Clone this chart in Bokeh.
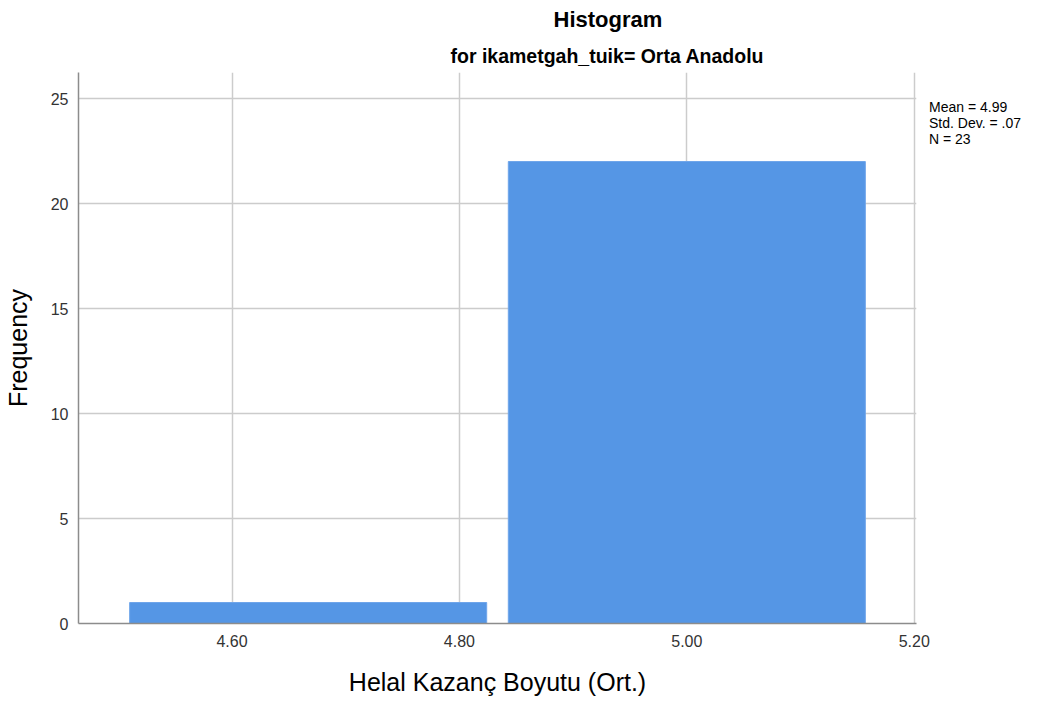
from bokeh.plotting import figure
from bokeh.models import (Range1d, FixedTicker, NumeralTickFormatter, ColumnDataSource,
                          Title, Legend, LegendItem)
from bokeh.embed import file_html
from bokeh.resources import INLINE

# data
bin_centers = [4.667, 5.0]
counts = [1, 22]
x_ticks = [4.60, 4.80, 5.00, 5.20]
y_ticks = [0, 5, 10, 15, 20, 25]
stats_lines = ["Mean = 4.99", "Std. Dev. = .07", "N = 23"]
title_text = "Histogram"
subtitle_text = "for ikametgah_tuik= Orta Anadolu"
x_label = "Helal Kazanç Boyutu (Ort.)"
y_label = "Frequency"

bar_width = 0.314
src = ColumnDataSource(dict(
    left=[c - bar_width / 2 for c in bin_centers],
    right=[c + bar_width / 2 for c in bin_centers],
    top=counts,
    bottom=[0] * len(counts),
))

p = figure(frame_width=838, frame_height=551, output_backend="svg", toolbar_location=None,
           x_range=Range1d(4.465, 5.202), y_range=Range1d(0, 26.24),
           min_border_left=76, min_border_right=113, min_border_top=64, min_border_bottom=70)
p.outline_line_color = None
p.background_fill_color = "white"
p.title.visible = False

p.quad(left="left", right="right", top="top", bottom="bottom", source=src,
       fill_color="#5596E5", line_color="#6FA5EA", line_width=1)

p.xaxis.ticker = FixedTicker(ticks=x_ticks)
p.yaxis.ticker = FixedTicker(ticks=y_ticks)
p.xaxis.formatter = NumeralTickFormatter(format="0.00")
for ax in (p.xaxis, p.yaxis):
    ax.major_tick_line_color = None
    ax.minor_tick_line_color = None
    ax.axis_line_color = "#8c8c8c"
    ax.axis_line_width = 1.5
    ax.major_label_text_font = "Liberation Sans"
    ax.major_label_text_font_size = "16px"
    ax.major_label_text_color = "#333333"
    ax.axis_label_text_font = "Liberation Sans"
    ax.axis_label_text_font_size = "25px"
    ax.axis_label_text_font_style = "normal"
    ax.axis_label_text_color = "#000000"

p.xaxis.axis_label = x_label
p.yaxis.axis_label = y_label
p.xaxis.major_label_standoff = 5
p.yaxis.major_label_standoff = 4
p.xaxis.axis_label_standoff = 18
p.yaxis.axis_label_standoff = 16

p.grid.grid_line_color = "#cccccc"
p.grid.grid_line_width = 1.5

# titles (first added sits closest to the frame)
p.add_layout(Title(text=subtitle_text, align="left", offset=372, standoff=12,
                   text_font="Liberation Sans", text_font_style="bold",
                   text_font_size="19.5px", text_color="#000000"), "above")
p.add_layout(Title(text=title_text, align="left", offset=475, standoff=9,
                   text_font="Liberation Sans", text_font_style="bold",
                   text_font_size="22px", text_color="#000000"), "above")

# statistics box
dummy = p.scatter(x=[], y=[], size=0, fill_alpha=0, line_alpha=0)
legend = Legend(items=[LegendItem(label=t, renderers=[dummy]) for t in stats_lines],
                location=(13, 476), orientation="vertical",
                glyph_width=0, glyph_height=13, label_height=13, label_standoff=0,
                spacing=0, padding=0, margin=0,
                border_line_color=None, background_fill_alpha=0,
                label_text_font="Liberation Sans", label_text_font_size="14px",
                label_text_color="#000000")
p.add_layout(legend, "right")

open("out.html", "w").write(file_html(p, INLINE))
